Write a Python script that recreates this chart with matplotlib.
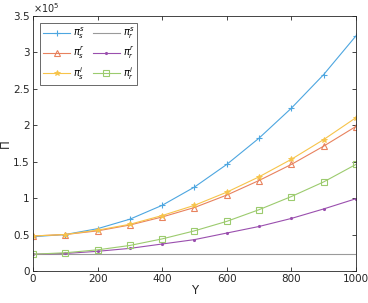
import numpy as np
import matplotlib
matplotlib.use("Agg")
import matplotlib.pyplot as plt

Y = [0, 100, 200, 300, 400, 500, 600, 700, 800, 900, 1000]
pi_s_s = [0.47, 0.50, 0.58, 0.71, 0.90, 1.15, 1.46, 1.82, 2.23, 2.69, 3.22]
pi_s_r = [0.48, 0.50, 0.55, 0.63, 0.74, 0.87, 1.04, 1.24, 1.46, 1.71, 1.98]
pi_s_i = [0.48, 0.50, 0.56, 0.64, 0.76, 0.90, 1.08, 1.29, 1.53, 1.80, 2.10]
pi_r_s = [0.23] * 11
pi_r_r = [0.23, 0.24, 0.27, 0.31, 0.37, 0.43, 0.52, 0.61, 0.72, 0.85, 0.99]
pi_r_i = [0.23, 0.25, 0.29, 0.35, 0.44, 0.55, 0.68, 0.84, 1.02, 1.22, 1.46]

scale = 1e5

fig = plt.figure(figsize=(3.68, 3.03), dpi=100)
ax = fig.add_axes([0.0897, 0.1056, 0.8773, 0.843])

c_blue = "#4da6e0"
c_orange = "#e8825e"
c_yellow = "#f7c44a"
c_gray = "#9a9a9a"
c_purple = "#9a4fae"
c_green = "#9ccb6e"

y = np.array
ax.plot(Y, y(pi_s_s) * scale, color=c_blue, lw=0.8, marker="+", ms=5, mew=0.8, label=r"$\pi_s^s$")
ax.plot(Y, y(pi_s_r) * scale, color=c_orange, lw=0.8, marker="^", ms=5, mfc="none", mew=0.8, label=r"$\pi_s^r$")
ax.plot(Y, y(pi_s_i) * scale, color=c_yellow, lw=0.8, marker="*", ms=4, mew=0.6, label=r"$\pi_s^i$")
ax.plot(Y, y(pi_r_s) * scale, color=c_gray, lw=0.8, label=r"$\pi_r^s$")
ax.plot(Y, y(pi_r_r) * scale, color=c_purple, lw=0.8, marker=".", ms=2.5, label=r"$\pi_r^r$")
ax.plot(Y, y(pi_r_i) * scale, color=c_green, lw=0.8, marker="s", ms=4.5, mfc="none", mew=0.8, label=r"$\pi_r^i$")

ax.set_xlim(0, 1000)
ax.set_ylim(0, 3.5e5)
ax.set_xticks(range(0, 1001, 200))
ax.set_yticks(np.arange(0, 3.51e5, 0.5e5))
ax.set_yticklabels(["0", "0.5", "1", "1.5", "2", "2.5", "3", "3.5"])
ax.text(0.0, 1.003, r"$\times10^5$", transform=ax.transAxes, fontsize=7, color="#262626", va="bottom")

for s in ax.spines.values():
    s.set_color("#262626")
    s.set_linewidth(0.6)
ax.tick_params(direction="in", length=3, width=0.6, labelsize=7.5, colors="#262626",
               top=True, right=True, pad=2.5)
ax.set_xlabel("Y", fontsize=8.5, color="#262626", labelpad=0)
ax.set_ylabel("Π", fontsize=8.5, color="#262626", labelpad=1)

leg = ax.legend(ncol=2, loc="upper left", fontsize=7, frameon=True, fancybox=False,
                edgecolor="#262626", handlelength=2.8, columnspacing=0.8,
                handletextpad=0.3, labelspacing=0.4, borderpad=0.3,
                borderaxespad=0, bbox_to_anchor=(0.022, 0.972))
leg.get_frame().set_linewidth(0.6)

fig.savefig("out.png", dpi=100)
